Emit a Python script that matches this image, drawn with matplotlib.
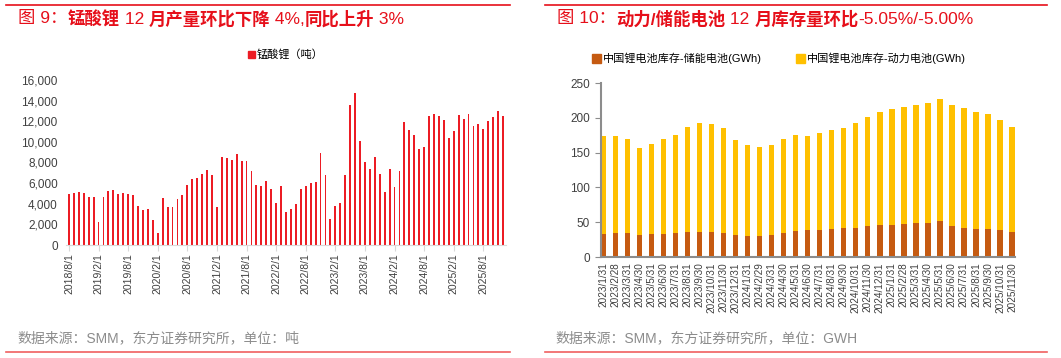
import matplotlib.pyplot as plt
import pandas as pd
from matplotlib.lines import Line2D
from matplotlib.patches import Rectangle

plt.rcParams['font.family'] = ['Liberation Sans', 'Noto Sans CJK SC']
plt.rcParams['axes.unicode_minus'] = False

# 锰酸锂月产量 (吨), 2018/8 - 2025/12
lmo_months = pd.date_range('2018-08-01', '2025-12-01', freq='MS')
lmo_output = [
    4950, 5000, 5140, 5000, 4690,
    4690, 2260, 4620, 5270, 5330, 4910, 5040, 4910, 4850, 3810, 3360, 3460,
    2460, 1160, 4560, 3720, 3680, 4430, 4850, 5820, 6400, 6530, 6880, 7300,
    6790, 3720, 8530, 8440, 8240, 8820, 8110, 8180, 7170, 5820, 5720, 6170,
    5460, 4100, 5720, 3230, 3490, 3980, 5460, 5720, 6010, 6140, 8890, 6750,
    2550, 3780, 4100, 6790, 13540, 14710, 10080, 8050, 7340, 8500, 6880, 5110,
    7340, 5660, 7140, 11890, 11180, 10700, 9310, 9500, 12480, 12670, 12480, 12120,
    10340, 11020, 12610, 12220, 12730, 11570, 11700, 11250, 12050, 12410, 12990, 12480,
]
lmo_labels = [f"{d.year}/{d.month}/1" for d in lmo_months]

# 锂电池库存 (GWh), 2023/1 - 2025/11
inv_dates = pd.date_range('2023-01-31', '2025-11-30', freq='ME')
inv_labels = [f"{d.year}/{d.month}/{d.day}" for d in inv_dates]
storage_inv = [
    33, 35, 34, 32, 33, 33, 34, 36, 36, 36, 34, 31,
    30, 30, 32, 35, 38, 38.5, 39.4, 40.4, 42.3, 42.3, 45.2, 45.7,
    46, 48, 49, 49, 52, 45.2, 41.8, 40, 40, 38.4, 36.5,
]
power_inv = [
    141, 139, 135, 124, 130, 136, 142, 151.5, 156, 155, 151, 137,
    131, 128, 129.5, 134, 137.5, 135.5, 138.6, 141.6, 143.7, 149.7, 156.3, 162.3,
    167, 167, 170, 171.7, 174.5, 173.8, 172.6, 168, 165, 158.6, 150.6,
]

W, H = 1061, 358
fig = plt.figure(figsize=(W / 100, H / 100), dpi=100)

red = '#E60F1A'
tick_col = '#404040'

def px(x0, y0, x1, y1):
    return [x0 / W, 1 - y1 / H, (x1 - x0) / W, (y1 - y0) / H]

# ---- 左图: 锰酸锂 ----
ax1 = fig.add_axes(px(66, 80, 506, 245))
x1 = range(len(lmo_output))
ax1.bar(x1, lmo_output, width=0.38, color='#EC1C24')
ax1.set_xlim(-0.6, len(lmo_output) - 0.4)
ax1.set_ylim(0, 16000)
ax1.set_yticks(range(0, 16001, 2000))
ax1.set_yticklabels([f"{v:,}" for v in range(0, 16001, 2000)])
ax1.set_xticks(range(0, len(lmo_output), 6))
ax1.set_xticklabels(lmo_labels[::6], rotation=90)
for s in ['top', 'right', 'left']:
    ax1.spines[s].set_visible(False)
ax1.spines['bottom'].set_color('#D9D9D9')
ax1.tick_params(axis='y', length=0, labelsize=8.5, colors=tick_col, pad=6)
ax1.tick_params(axis='x', length=4, color='#D9D9D9', labelsize=7.5, colors=tick_col, pad=2)
ax1.legend(handles=[Rectangle((0, 0), 1, 1, color='#EC1C24')], labels=['锰酸锂（吨）'],
           loc='lower center', bbox_to_anchor=(0.5, 1.06), frameon=False, fontsize=8,
           handlelength=0.6, handleheight=0.6, handletextpad=0.2)

# ---- 右图: 库存 ----
ax2 = fig.add_axes(px(601, 83, 1015, 257))
x2 = range(len(inv_labels))
c_st, c_pw = '#C55A11', '#FFC000'
ax2.bar(x2, storage_inv, width=0.45, color=c_st)
ax2.bar(x2, power_inv, width=0.45, bottom=storage_inv, color=c_pw)
ax2.set_xlim(-0.2, len(inv_labels) - 0.75)
ax2.set_ylim(0, 250)
ax2.set_yticks(range(0, 251, 50))
ax2.set_xticks(list(x2))
ax2.set_xticklabels(inv_labels, rotation=90)
for s in ['top', 'right']:
    ax2.spines[s].set_visible(False)
for s in ['left', 'bottom']:
    ax2.spines[s].set_color('#8C8C8C')
    ax2.spines[s].set_linewidth(1.5)
ax2.tick_params(axis='y', length=4, color='#8C8C8C', labelsize=8.5, colors=tick_col, pad=4)
ax2.tick_params(axis='x', length=0, labelsize=7.2, colors=tick_col, pad=4)
ax2.legend(handles=[Rectangle((0, 0), 1, 1, color=c_st), Rectangle((0, 0), 1, 1, color=c_pw)],
           labels=['中国锂电池库存-储能电池(GWh)', '中国锂电池库存-动力电池(GWh)'],
           loc='lower center', bbox_to_anchor=(0.43, 1.05), frameon=False, fontsize=8, ncol=2,
           handlelength=0.8, handleheight=0.8, handletextpad=0.2, columnspacing=3)

# ---- 标题 (中文加粗, 数字常规) ----
renderer = fig.canvas.get_renderer()

def title_parts(x0, y0, parts):
    x = x0
    for txt, wt in parts:
        t = fig.text(x / W, 1 - y0 / H, txt, color=red, fontsize=12.5, fontweight=wt,
                     va='center')
        x = t.get_window_extent(renderer).x1

title_parts(18, 19, [('图 9：', 'normal'), ('锰酸锂', 'bold'), (' 12 ', 'normal'),
                     ('月产量环比下降', 'bold'), (' 4%,', 'normal'), ('同比上升', 'bold'),
                     (' 3%', 'normal')])
title_parts(557, 19, [('图 10：', 'normal'), ('动力/储能电池', 'bold'), (' 12 ', 'normal'),
                      ('月库存量环比', 'bold'), ('-5.05%/-5.00%', 'normal')])

fig.text(17 / W, 1 - 338 / H, '数据来源：SMM，东方证券研究所，单位：吨', color='#8C8C8C',
         fontsize=10, va='center')
fig.text(555 / W, 1 - 338 / H, '数据来源：SMM，东方证券研究所，单位：GWH', color='#8C8C8C',
         fontsize=10, va='center')

for xa, xb in [(6, 510), (545, 1047)]:
    fig.add_artist(Line2D([xa / W, xb / W], [1 - 5 / H, 1 - 5 / H], color=red, lw=1.2))
    fig.add_artist(Line2D([xa / W, xb / W], [1 - 352 / H, 1 - 352 / H], color='#F06060', lw=1.2))

fig.savefig('out.png', dpi=100)
